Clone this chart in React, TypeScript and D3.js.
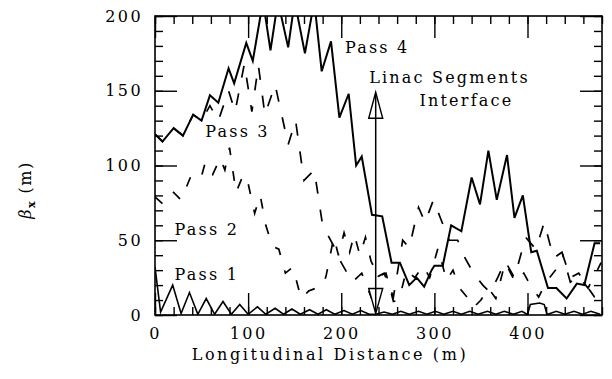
import React, { useEffect, useRef } from 'react';
import * as d3 from 'd3';

// beta_x (m) vs longitudinal distance (m)
const pass4: [number, number][] = [
  [0, 121], [8, 116], [20, 125], [30, 120], [41, 134], [50, 130], [59, 147], [68, 142],
  [79, 165], [85, 155], [98, 182], [105, 170], [116, 210], [124, 177], [132, 210], [143, 179],
  [150, 210], [161, 175], [171, 210], [179, 163], [189, 183], [198, 132], [208, 148], [216, 100],
  [222, 106], [233, 67], [244, 66], [254, 35], [263, 35], [273, 20], [281, 25], [289, 19],
  [297, 30], [300, 33], [309, 33], [318, 60], [329, 56], [340, 92], [349, 74], [358, 110],
  [367, 77], [378, 107], [386, 65], [395, 80], [404, 42], [410, 43], [422, 18], [431, 18],
  [442, 11], [453, 21], [461, 20], [472, 48], [478, 48],
];

const pass3: [number, number][] = [
  [0, 121], [8, 116], [20, 125], [30, 120], [41, 134], [50, 130], [59, 140], [68, 130],
  [79, 150], [86, 136], [96, 168], [104, 136], [111, 167], [118, 134], [129, 154], [143, 114],
  [151, 130], [160, 90], [171, 97], [180, 60], [192, 46], [200, 35], [212, 22], [222, 28],
  [232, 12], [240, 26], [246, 28], [256, 12], [266, 50], [273, 45], [283, 72], [290, 62],
  [299, 77], [307, 64], [316, 50], [325, 50], [333, 38], [342, 28], [352, 20], [360, 15],
  [368, 25], [376, 36], [386, 25], [398, 52], [409, 44], [418, 62], [428, 38], [437, 42],
  [446, 22], [455, 26], [465, 18], [475, 30], [479, 35],
];

const pass2: [number, number][] = [
  [0, 79], [9, 74], [20, 82], [28, 77], [40, 95], [50, 93], [54, 102], [62, 94],
  [70, 105], [75, 97], [80, 112], [87, 82], [95, 94], [100, 88], [107, 68], [113, 80],
  [119, 60], [126, 46], [133, 44], [140, 28], [148, 32], [157, 11], [165, 16], [181, 20],
  [184, 27], [192, 52], [197, 40], [203, 55], [209, 42], [214, 54], [220, 40], [226, 52],
  [232, 36], [240, 26], [248, 28], [256, 9], [262, 10], [270, 30], [279, 25], [288, 33],
  [295, 25], [304, 45], [313, 23], [320, 30], [327, 18], [335, 12], [342, 5], [350, 10],
  [358, 18], [366, 11], [376, 35], [387, 22], [396, 28], [403, 20], [412, 12], [420, 22],
  [430, 30], [438, 40], [446, 25], [455, 28], [463, 20], [472, 12], [478, 10],
];

const pass1: [number, number][] = [
  [0, 32], [6, 2], [19, 20], [28, 1], [37, 15], [46, 0.5], [55, 11], [64, 0.5],
  [73, 9], [82, 0.5], [91, 7], [100, 0.5], [110, 5.5], [119, 0.5], [129, 4.5], [138, 0.5],
  [147, 4], [156, 0.5], [166, 3.5], [175, 0.5], [184, 3.5], [193, 0.5], [203, 3], [212, 0.5],
  [221, 3], [230, 0.5], [237, 0.5], [246, 2], [255, 0.5], [264, 2.5], [273, 0.5], [283, 2.5],
  [292, 0.5], [301, 2.5], [310, 0.5], [320, 2.5], [329, 0.5], [338, 2.5], [347, 0.5], [357, 2.5],
  [366, 0.5], [375, 2.5], [385, 0.5], [394, 2.5], [400, 0.3], [403, 7], [413, 8], [418, 7],
  [421, 0.3], [431, 2.5], [440, 0.5], [450, 2.5], [459, 0.5], [468, 2.5], [478, 0.5],
];

const xMajor = [0, 100, 200, 300, 400];
const yMajor = [0, 50, 100, 150, 200];
const interfaceAt = 237;
const arrowSpan = [149, 1];

const notes = [
  { text: 'Pass 4', x: 204, y: 175 },
  { text: 'Linac Segments', x: 230, y: 155 },
  { text: 'Interface', x: 284, y: 140 },
  { text: 'Pass 3', x: 54, y: 119 },
  { text: 'Pass 2', x: 21, y: 53.5 },
  { text: 'Pass 1', x: 21, y: 23.5 },
];

const FONT = '"DejaVu Serif", serif';

function App() {
  const svgRef = useRef<SVGSVGElement>(null);

  useEffect(() => {
    const margin = { top: 16, right: 10, bottom: 64, left: 155 };
    const width = 612 - margin.left - margin.right;
    const height = 379 - margin.top - margin.bottom;

    const root = d3.select(svgRef.current);
    root.selectAll('*').remove();

    const svg = root.append('g')
      .attr('transform', `translate(${margin.left},${margin.top})`);

    const x = d3.scaleLinear().domain([0, 480]).range([0, width]);
    const y = d3.scaleLinear().domain([0, 200]).range([height, 0]);

    root.append('defs').append('clipPath').attr('id', 'plot-clip')
      .append('rect').attr('width', width).attr('height', height);

    const styleAxis = (g) => {
      g.select('.domain').remove();
      g.selectAll('line').attr('stroke', '#000').attr('stroke-width', 1.4);
      g.attr('font-family', FONT).attr('font-size', 16);
      g.selectAll('text').attr('fill', '#000').attr('letter-spacing', 2.4);
    };

    // bottom
    svg.append('g').attr('transform', `translate(0,${height})`)
      .call(d3.axisBottom(x).tickValues(xMajor).tickSize(-22).tickPadding(13).tickFormat(d3.format('d')))
      .call(styleAxis);
    svg.append('g').attr('transform', `translate(0,${height})`)
      .call(d3.axisBottom(x).tickValues(x.ticks(24)).tickSize(-8).tickFormat(() => ''))
      .call(styleAxis);
    // top
    svg.append('g')
      .call(d3.axisTop(x).tickValues(xMajor).tickSize(-22).tickFormat(() => ''))
      .call(styleAxis);
    svg.append('g')
      .call(d3.axisTop(x).tickValues(x.ticks(24)).tickSize(-8).tickFormat(() => ''))
      .call(styleAxis);
    // left
    svg.append('g')
      .call(d3.axisLeft(y).tickValues(yMajor).tickSize(-22).tickPadding(12).tickFormat(d3.format('d')))
      .call(styleAxis);
    svg.append('g')
      .call(d3.axisLeft(y).tickValues(y.ticks(20)).tickSize(-8).tickFormat(() => ''))
      .call(styleAxis);
    // right
    svg.append('g').attr('transform', `translate(${width},0)`)
      .call(d3.axisRight(y).tickValues(yMajor).tickSize(-22).tickFormat(() => ''))
      .call(styleAxis);
    svg.append('g').attr('transform', `translate(${width},0)`)
      .call(d3.axisRight(y).tickValues(y.ticks(20)).tickSize(-8).tickFormat(() => ''))
      .call(styleAxis);

    svg.append('rect')
      .attr('width', width).attr('height', height)
      .attr('fill', 'none').attr('stroke', '#000').attr('stroke-width', 1.6);

    const line = d3.line<[number, number]>()
      .x(d => x(d[0]))
      .y(d => y(d[1]));

    const plot = svg.append('g').attr('clip-path', 'url(#plot-clip)');

    const series = [
      { data: pass1, width: 1.6, dash: null },
      { data: pass2, width: 1.7, dash: '10 16' },
      { data: pass3, width: 1.7, dash: '12 16' },
      { data: pass4, width: 2, dash: null },
    ];
    series.forEach(s => {
      plot.append('path')
        .datum(s.data)
        .attr('d', line)
        .attr('fill', 'none')
        .attr('stroke', '#000')
        .attr('stroke-width', s.width)
        .attr('stroke-linejoin', 'miter')
        .attr('stroke-dasharray', s.dash);
    });

    // interface arrow
    const ax = x(interfaceAt);
    const yTop = y(arrowSpan[0]);
    const yBot = y(arrowSpan[1]);
    svg.append('path')
      .attr('d', `M${ax},${yTop} L${ax - 7},${yTop + 26} L${ax + 7},${yTop + 26} Z`)
      .attr('fill', '#fff').attr('stroke', '#000').attr('stroke-width', 1.4);
    svg.append('path')
      .attr('d', `M${ax},${yBot} L${ax - 7},${yBot - 25} L${ax + 7},${yBot - 25} Z`)
      .attr('fill', '#fff').attr('stroke', '#000').attr('stroke-width', 1.4);
    svg.append('line')
      .attr('x1', ax).attr('x2', ax).attr('y1', yTop + 2).attr('y2', yBot - 2)
      .attr('stroke', '#000').attr('stroke-width', 1.5);

    // annotations
    svg.selectAll('text.note')
      .data(notes)
      .join('text')
      .attr('class', 'note')
      .attr('x', d => x(d.x))
      .attr('y', d => y(d.y))
      .attr('font-family', FONT)
      .attr('font-size', 16)
      .attr('letter-spacing', 2.2)
      .attr('fill', '#000')
      .text(d => d.text);

    // axis titles
    root.append('text')
      .attr('x', 330).attr('y', 360)
      .attr('text-anchor', 'middle')
      .attr('font-family', FONT).attr('font-size', 16).attr('letter-spacing', 2.6)
      .text('Longitudinal Distance (m)');

    const yt = root.append('text')
      .attr('transform', 'translate(31,190) rotate(-90)')
      .attr('text-anchor', 'middle')
      .attr('font-family', FONT).attr('font-size', 16).attr('letter-spacing', 1.5);
    yt.append('tspan').attr('font-style', 'italic').text('β');
    yt.append('tspan').attr('font-size', 11).attr('font-weight', 'bold').attr('dy', 4).text('x');
    yt.append('tspan').attr('dy', -4).text(' (m)');
  }, []);

  return (
    <svg
      ref={svgRef}
      width={612}
      height={379}
      style={{ position: 'absolute', left: 0, top: 0, background: '#fff' }}
    />
  );
}

export default App;
